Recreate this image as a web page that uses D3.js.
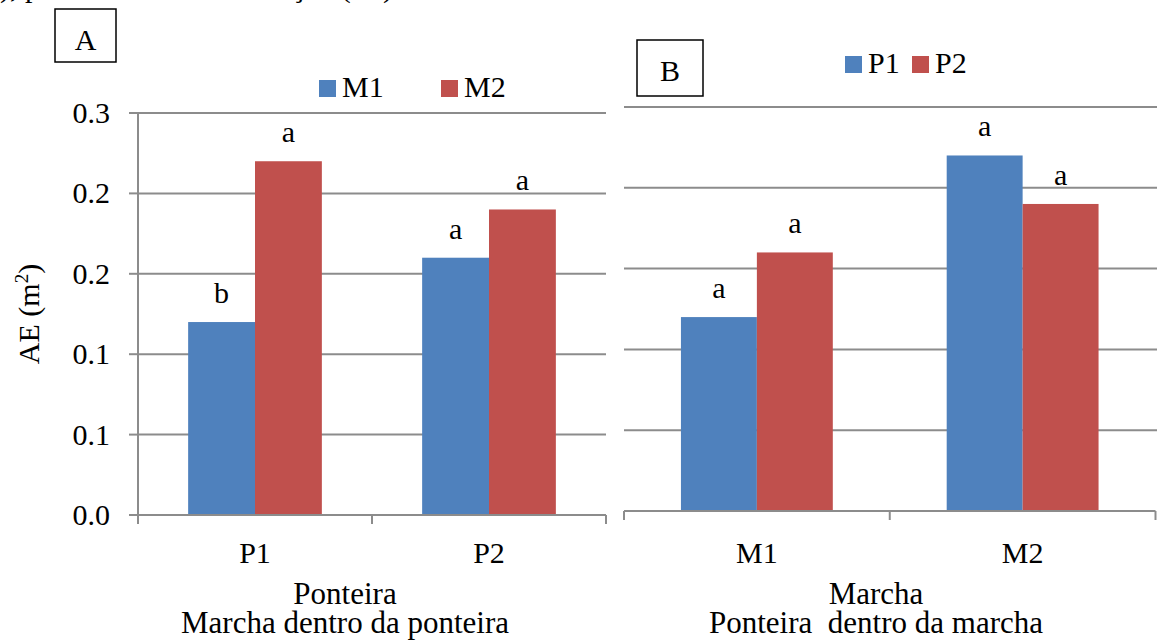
<!DOCTYPE html>
<html><head><meta charset="utf-8">
<script src="https://cdn.jsdelivr.net/npm/d3@7"></script>
<style>
html,body{margin:0;padding:0;background:#fff;}
svg{display:block;font-family:"Liberation Serif","Times New Roman",serif;}
</style></head>
<body><svg id="c" width="1157" height="643"></svg>
<script>
// ---- data ----
const ponteiras = ["P1", "P2"];
const marchas = ["M1", "M2"];
// Panel A: marcha within ponteira (values per ponteira, series = marcha)
const panelA_M1 = [0.12, 0.16];
const panelA_M2 = [0.22, 0.19];
const panelA_letters_M1 = ["b", "a"];
const panelA_letters_M2 = ["a", "a"];
// Panel B: ponteira within marcha (values per marcha, series = ponteira)
const panelB_P1 = [0.12, 0.22];
const panelB_P2 = [0.16, 0.19];
const panelB_letters_P1 = ["a", "a"];
const panelB_letters_P2 = ["a", "a"];
const yTickValues = [0, 0.05, 0.10, 0.15, 0.20, 0.25];
const yTickLabels = ["0.0", "0.1", "0.1", "0.2", "0.2", "0.3"];
const yTitle = "AE (m";
const colors = ["#4F81BD", "#C0504D"];

const svg = d3.select("#c");
const FS = 30;
const grid = "#8c8c8c";

// clipped caption at the very top (only its lower part is visible, as in the source)
svg.append("text").attr("x", 0).attr("y", -3).attr("font-size", FS).text("), p");
svg.append("text").attr("x", 393).attr("y", -3).attr("font-size", FS).attr("text-anchor", "end").text("ção (m²)");

function panel(o) {
  const g = svg.append("g");
  const x = d3.scaleBand().domain(o.cats).range([o.x0, o.x1]).paddingInner(0).paddingOuter(0);
  const xs = d3.scaleBand().domain(o.series).range([0, x.bandwidth()]).paddingInner(0).paddingOuter(0.75);
  const y = d3.scaleLinear().domain([0, 0.25]).range([o.y0, o.yTop]);

  // gridlines
  g.append("g").selectAll("line").data(yTickValues.slice(1)).join("line")
    .attr("x1", o.gx0).attr("x2", o.gx1)
    .attr("y1", d => y(d)).attr("y2", d => y(d))
    .attr("stroke", grid).attr("stroke-width", 2);

  // bars
  const rows = [];
  o.cats.forEach((c, i) => o.series.forEach((s, j) => rows.push({c, s, j, v: o.vals[j][i], l: o.letters[j][i]})));
  g.append("g").selectAll("rect").data(rows).join("rect")
    .attr("x", d => x(d.c) + xs(d.s)).attr("width", xs.bandwidth())
    .attr("y", d => y(d.v)).attr("height", d => y(0) - y(d.v))
    .attr("fill", d => colors[d.j]);
  g.append("g").selectAll("text").data(rows).join("text")
    .attr("x", d => x(d.c) + xs(d.s) + xs.bandwidth() / 2)
    .attr("y", d => y(d.v) - 19)
    .attr("text-anchor", "middle").attr("font-size", FS).text(d => d.l);

  // x axis
  const xa = g.append("g").attr("transform", `translate(0,${o.y0})`);
  xa.append("line").attr("x1", o.x0).attr("x2", o.x1).attr("stroke", grid).attr("stroke-width", 2);
  const edges = o.cats.map(c => x(c)).concat([o.x1]);
  xa.selectAll("line.t").data(edges).join("line").attr("class", "t")
    .attr("x1", d => d).attr("x2", d => d).attr("y1", 0).attr("y2", 9)
    .attr("stroke", grid).attr("stroke-width", 2);
  g.append("g").selectAll("text").data(o.cats).join("text")
    .attr("x", d => x(d) + x.bandwidth() / 2).attr("y", 563)
    .attr("text-anchor", "middle").attr("font-size", FS).text(d => d);
  const tt = g.append("text").attr("text-anchor", "middle").attr("font-size", 31).style("white-space", "pre");
  tt.append("tspan").attr("x", o.tx).attr("y", 604).text(o.t1);
  tt.append("tspan").attr("x", o.tx).attr("y", 633).text(o.t2);

  if (o.yaxis) {
    g.append("line").attr("x1", o.x0).attr("x2", o.x0).attr("y1", o.yTop).attr("y2", o.y0 + 9)
      .attr("stroke", grid).attr("stroke-width", 2);
    g.append("g").selectAll("line").data(yTickValues).join("line")
      .attr("x1", o.x0 - 9).attr("x2", o.x0).attr("y1", d => y(d)).attr("y2", d => y(d))
      .attr("stroke", grid).attr("stroke-width", 2);
    g.append("g").selectAll("text").data(yTickValues).join("text")
      .attr("x", 110).attr("y", d => y(d)).attr("dy", "0.33em")
      .attr("text-anchor", "end").attr("font-size", FS).text((d, i) => yTickLabels[i]);
    const yt = g.append("text").attr("transform", "translate(39,314) rotate(-90)")
      .attr("text-anchor", "middle").attr("font-size", FS);
    yt.append("tspan").text(yTitle);
    yt.append("tspan").attr("font-size", 19).attr("dy", -11).text("2");
    yt.append("tspan").attr("dy", 11).text(")");
  }

  // legend
  o.series.forEach((s, j) => {
    const lx = o.legX[j];
    g.append("rect").attr("x", lx).attr("y", o.legY - 17).attr("width", 17).attr("height", 17).attr("fill", colors[j]);
    g.append("text").attr("x", lx + 23).attr("y", o.legY).attr("font-size", FS).text(s);
  });

  // label box
  g.append("rect").attr("x", o.box[0]).attr("y", o.box[1]).attr("width", o.box[2]).attr("height", o.box[3])
    .attr("fill", "none").attr("stroke", "#000").attr("stroke-width", 1.5);
  g.append("text").attr("x", o.box[0] + o.box[2] / 2).attr("y", o.box[1] + 41)
    .attr("text-anchor", "middle").attr("font-size", FS).text(o.boxLabel);
}

panel({
  cats: ponteiras, series: marchas, vals: [panelA_M1, panelA_M2], letters: [panelA_letters_M1, panelA_letters_M2],
  x0: 138, x1: 606, y0: 515, yTop: 113, gx0: 138, gx1: 606, yaxis: true,
  tx: 345, t1: "Ponteira", t2: "Marcha dentro da ponteira",
  legX: [319, 441], legY: 97, box: [55, 9, 61, 53], boxLabel: "A"
});
panel({
  cats: marchas, series: ponteiras, vals: [panelB_P1, panelB_P2], letters: [panelB_letters_P1, panelB_letters_P2],
  x0: 624, x1: 1155.5, y0: 511, yTop: 107, gx0: 624, gx1: 1157, yaxis: false,
  tx: 876, t1: "Marcha", t2: "Ponteira  dentro da marcha",
  legX: [845, 912], legY: 73, box: [637, 40, 66, 56], boxLabel: "B"
});
</script></body></html>
